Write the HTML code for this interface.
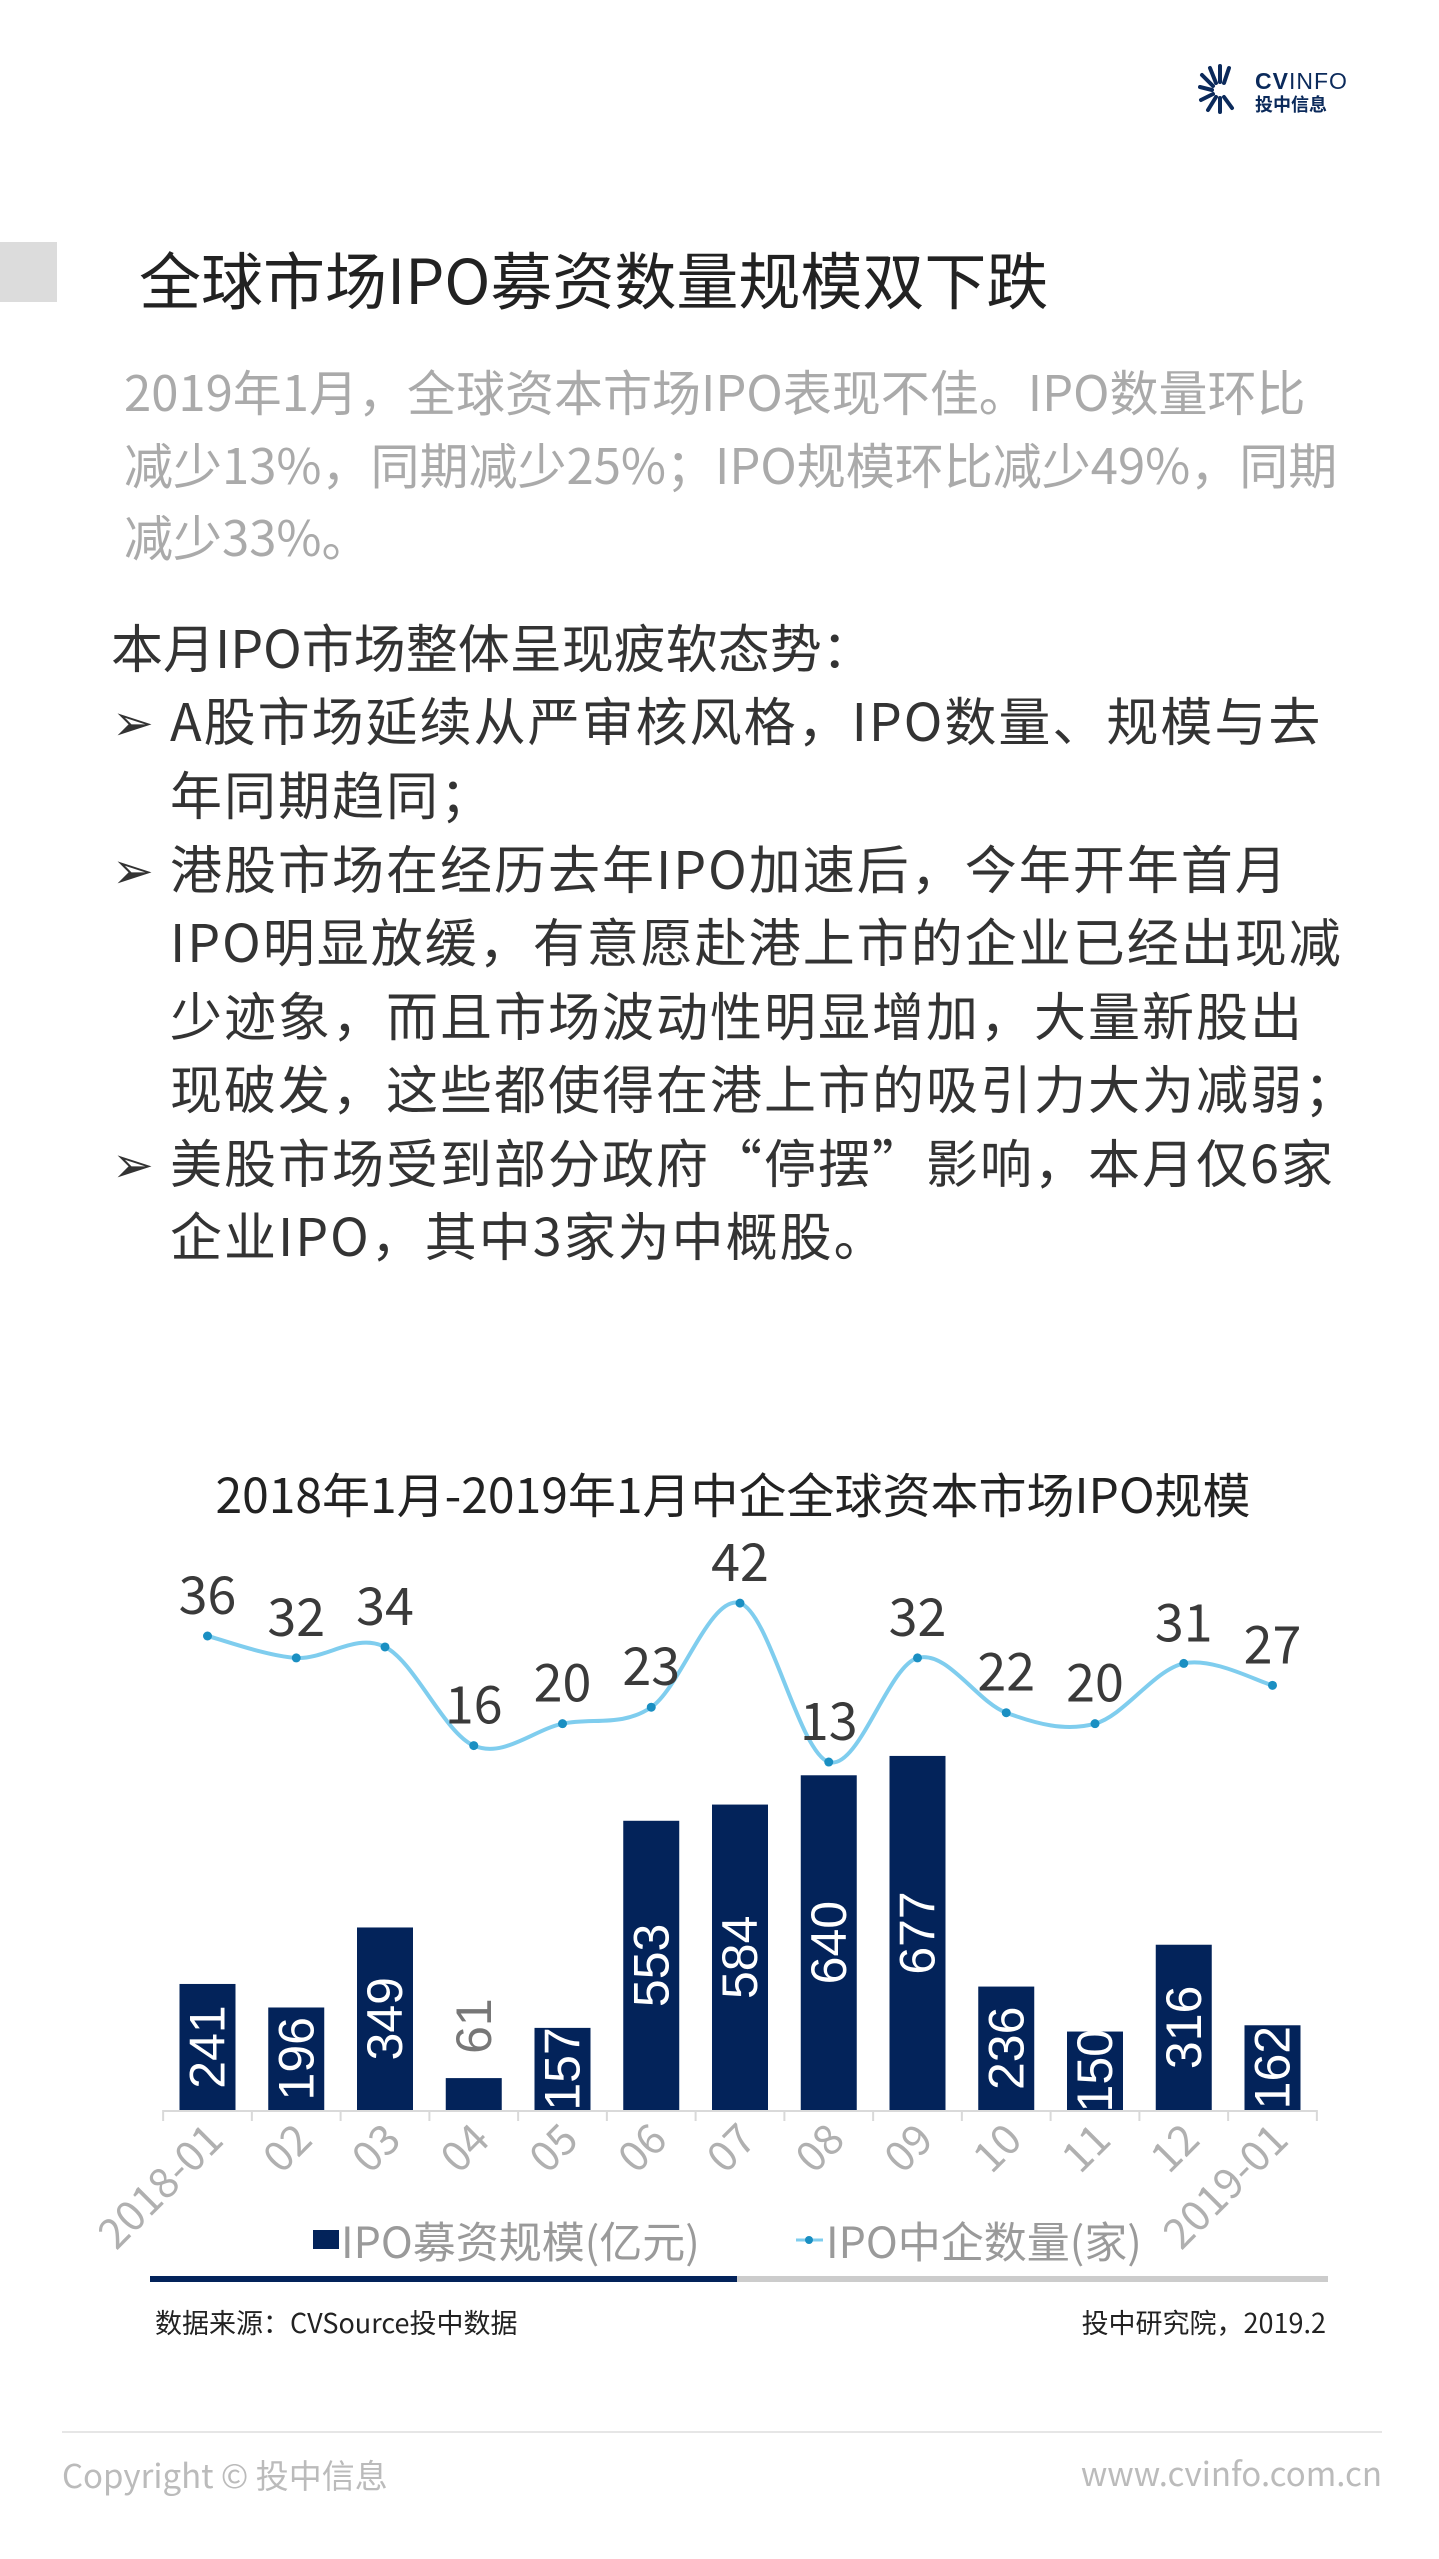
<!DOCTYPE html>
<html><head><meta charset="utf-8">
<style>
html,body{margin:0;padding:0;background:#fff;}
body{width:1439px;height:2559px;position:relative;overflow:hidden;font-family:"Noto Sans CJK SC","Liberation Sans",sans-serif;}
.abs{position:absolute;white-space:nowrap;line-height:1;}
.gp{color:#aaa;font-size:49px;left:124px;}
.bp{color:#333;font-size:52px;letter-spacing:2px;}
.arr{position:absolute;left:112px;color:#333;font-size:50px;line-height:1;}
</style></head>
<body>
<div class="abs" style="left:1198px;top:60px;width:150px;height:56px;font-family:'Liberation Sans','Noto Sans CJK SC',sans-serif;">
<svg width="40" height="52" viewBox="0 0 40 52" style="position:absolute;left:0;top:2px">
<g stroke="#0b2a5b" stroke-width="4" stroke-linecap="round">
<line x1="22" y1="20" x2="22" y2="4"/><line x1="18" y1="21" x2="12" y2="6"/><line x1="26" y1="21" x2="31" y2="6"/>
<line x1="15" y1="24" x2="4" y2="13"/><line x1="14" y1="28" x2="2" y2="25"/><line x1="15" y1="32" x2="3" y2="38"/>
<line x1="18" y1="35" x2="10" y2="48"/><line x1="22" y1="36" x2="22" y2="50"/><line x1="26" y1="35" x2="34" y2="46"/>
</g></svg>
<div class="abs" style="left:57px;top:10px;font-size:23px;color:#0b2a5b;letter-spacing:1px;"><b>CV</b>INFO</div>
<div class="abs" style="left:57px;top:36px;font-size:18px;font-weight:bold;color:#0b2a5b;">投中信息</div>
</div>

<div class="abs" style="left:0;top:242px;width:57px;height:60px;background:#dcdcdc;"></div>
<div class="abs" style="left:139px;top:246px;font-size:62px;color:#222;">全球市场IPO募资数量规模双下跌</div>

<div class="abs gp" style="top:366px;">2019年1月，全球资本市场IPO表现不佳。IPO数量环比</div>
<div class="abs gp" style="top:439px;">减少13%，同期减少25%；IPO规模环比减少49%，同期</div>
<div class="abs gp" style="top:511px;">减少33%。</div>

<div class="abs bp" style="left:111px;top:620px;letter-spacing:0;">本月IPO市场整体呈现疲软态势：</div>
<div class="arr" style="top:694px;">➢</div>
<div class="abs bp" style="left:170px;top:693px;">A股市场延续从严审核风格，IPO数量、规模与去</div>
<div class="abs bp" style="left:170px;top:767px;">年同期趋同；</div>
<div class="arr" style="top:842px;">➢</div>
<div class="abs bp" style="left:170px;top:841px;">港股市场在经历去年IPO加速后，今年开年首月</div>
<div class="abs bp" style="left:170px;top:914px;">IPO明显放缓，有意愿赴港上市的企业已经出现减</div>
<div class="abs bp" style="left:170px;top:988px;">少迹象，而且市场波动性明显增加，大量新股出</div>
<div class="abs bp" style="left:170px;top:1061px;">现破发，这些都使得在港上市的吸引力大为减弱；</div>
<div class="arr" style="top:1136px;">➢</div>
<div class="abs bp" style="left:170px;top:1135px;">美股市场受到部分政府“停摆”影响，本月仅6家</div>
<div class="abs bp" style="left:170px;top:1208px;">企业IPO，其中3家为中概股。</div>

<svg id="chart" class="abs" style="left:0;top:0" width="1439" height="2559"></svg>

<div class="abs" style="left:62px;top:2431px;width:1320px;height:2px;background:#e6e6e6;"></div>
<div class="abs" style="left:62px;top:2458px;font-size:33px;color:#bbb;">Copyright © 投中信息</div>
<div class="abs" style="right:57px;top:2456px;font-size:33px;color:#bbb;">www.cvinfo.com.cn</div>

<script>
const categories=["2018-01","02","03","04","05","06","07","08","09","10","11","12","2019-01"];
const ipoAmount=[241,196,349,61,157,553,584,640,677,236,150,316,162];
const ipoCount=[36,32,34,16,20,23,42,13,32,22,20,31,27];
const NS="http://www.w3.org/2000/svg";
const svg=document.getElementById('chart');
function mk(tag,attrs,parent){const e=document.createElementNS(NS,tag);for(const k in attrs)e.setAttribute(k,attrs[k]);(parent||svg).appendChild(e);return e;}
const x0=207.5,step=88.75,base=2110,barW=56;
const xs=i=>x0+i*step;
const yBar=v=>base-v*0.523;
const yLine=v=>1636-(v-36)*5.48;

let t=mk('text',{x:733,y:1513,'text-anchor':'middle','font-size':48,fill:'#222'});


t.textContent='2018年1月-2019年1月中企全球资本市场IPO规模';

let ax=mk('line',{x1:163,y1:base+1,x2:1316,y2:base+1,stroke:'#d9d9d9','stroke-width':2});


for(let i=0;i<=categories.length;i++){
  const tx=xs(i)-step/2;
  let tk=mk('line',{x1:tx,y1:base,x2:tx,y2:base+11,stroke:'#d9d9d9','stroke-width':2});
  
  
}
categories.forEach((c,i)=>{
  const cx=xs(i)+18,cy=base+32;
  let l=mk('text',{x:cx,y:cy,'text-anchor':'end','font-size':42,fill:'#b0b0b0',transform:`rotate(-45 ${cx} ${cy})`});
  
  
  l.textContent=c;
});
ipoAmount.forEach((v,i)=>{
  const top=yBar(v);
  let r=mk('rect',{x:xs(i)-barW/2,y:top,width:barW,height:base-top,fill:'#03235a'});
  
  
  const h=base-top;
  const inside=h>60;
  const cy=inside?(top+base)/2:top-52;
  let l=mk('text',{x:0,y:0,'text-anchor':'middle','dominant-baseline':'central','font-size':50,'font-family':'Liberation Sans, sans-serif',fill:inside?'#fff':'#777',transform:`translate(${xs(i)} ${cy}) rotate(-90)`});
  
  
  l.textContent=v;
});
const pts=ipoCount.map((v,i)=>[xs(i),yLine(v)]);
let d=`M${pts[0][0]},${pts[0][1]}`;
for(let i=0;i<pts.length-1;i++){
  const p0=pts[Math.max(0,i-1)],p1=pts[i],p2=pts[i+1],p3=pts[Math.min(pts.length-1,i+2)];
  const k=1/6;
  d+=` C${p1[0]+(p2[0]-p0[0])*k},${p1[1]+(p2[1]-p0[1])*k} ${p2[0]-(p3[0]-p1[0])*k},${p2[1]-(p3[1]-p1[1])*k} ${p2[0]},${p2[1]}`;
}
let pl=mk('path',{d:d,fill:'none',stroke:'#7fcdee','stroke-width':4});


pts.forEach((p,i)=>{
  let c=mk('circle',{cx:p[0],cy:p[1],r:4.5,fill:'#1a8fc2'});
  
  
  let l=mk('text',{x:p[0],y:p[1]-22,'text-anchor':'middle','font-size':52,fill:'#3a3a3a'});
  
  
  l.textContent=ipoCount[i];
});
let ls=mk('rect',{x:313,y:2230,width:26,height:19,fill:'#03235a'});


let lt=mk('text',{x:341,y:2258,'font-size':43,fill:'#9a9a9a'});


lt.textContent='IPO募资规模(亿元)';
let ll=mk('line',{x1:796,y1:2240,x2:823,y2:2240,stroke:'#7fcdee','stroke-width':3});


let lc=mk('circle',{cx:809,cy:2240,r:4,fill:'#1a8fc2'});


let lt2=mk('text',{x:826,y:2258,'font-size':43,fill:'#9a9a9a'});


lt2.textContent='IPO中企数量(家)';
let b1=mk('rect',{x:150,y:2276,width:587,height:6,fill:'#03235a'});


let b2=mk('rect',{x:737,y:2276,width:591,height:6,fill:'#cccccc'});


let s1=mk('text',{x:155,y:2333,'font-size':27,fill:'#222'});


s1.textContent='数据来源：CVSource投中数据';
let s2=mk('text',{x:1326,y:2333,'text-anchor':'end','font-size':27,fill:'#222'});


s2.textContent='投中研究院，2019.2';
</script>
</body></html>
